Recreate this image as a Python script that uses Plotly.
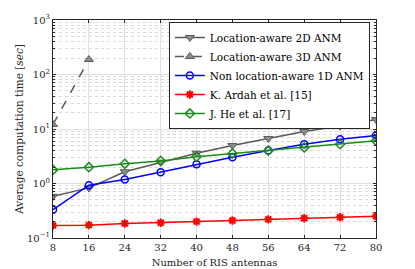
import plotly.graph_objects as go

antennas = [8, 16, 24, 32, 40, 48, 56, 64, 72, 80]
loc2d = [0.58, 0.83, 1.64, 2.46, 3.6, 4.97, 6.7, 9.0, 11.3, 14.9]
loc3d_x = [8, 16]
loc3d = [12.1, 188]
nonloc1d = [0.33, 0.93, 1.18, 1.61, 2.26, 3.04, 4.03, 5.26, 6.5, 7.6]
ardah = [0.17, 0.172, 0.185, 0.19, 0.20, 0.21, 0.22, 0.23, 0.24, 0.25]
he = [1.78, 1.99, 2.3, 2.6, 3.1, 3.55, 4.0, 4.6, 5.26, 6.06]
y_tickvals = [0.1, 1, 10, 100, 1000]
y_ticktext = ["10<sup>−1</sup>", "10<sup>0</sup>", "10<sup>1</sup>", "10<sup>2</sup>", "10<sup>3</sup>"]

FONT = "DejaVu Serif"
gray = "#595959"

fig = go.Figure()
fig.add_trace(go.Scatter(x=antennas, y=loc2d, mode="lines+markers", name="Location-aware 2D ANM",
                         line=dict(color=gray, width=1.5),
                         marker=dict(symbol="triangle-down", size=8, color="#8c8c8c",
                                     line=dict(color=gray, width=1))))
fig.add_trace(go.Scatter(x=loc3d_x, y=loc3d, mode="lines+markers", name="Location-aware 3D ANM",
                         line=dict(color=gray, width=1.5, dash="dash"),
                         marker=dict(symbol="triangle-up", size=8, color="#8c8c8c",
                                     line=dict(color=gray, width=1))))
fig.add_trace(go.Scatter(x=antennas, y=nonloc1d, mode="lines+markers", name="Non location-aware 1D ANM",
                         line=dict(color="#0000ff", width=1.5),
                         marker=dict(symbol="circle-open", size=7, color="#0000ff", line=dict(width=1.5))))
fig.add_trace(go.Scatter(x=antennas, y=ardah, mode="lines+markers", name="K. Ardah et al. [15]",
                         line=dict(color="#ff0000", width=1.5),
                         marker=dict(symbol="asterisk-open", size=7, color="#ff0000", line=dict(width=2, color="#ff0000"))))
fig.add_trace(go.Scatter(x=antennas, y=he, mode="lines+markers", name="J. He et al. [17]",
                         line=dict(color="#1a8c1a", width=1.5),
                         marker=dict(symbol="diamond-open", size=7, color="#1a8c1a", line=dict(width=1.5))))

axis_common = dict(showline=True, linecolor="#262626", linewidth=1, mirror="ticks",
                   ticks="inside", ticklen=3, tickcolor="#262626", automargin=False,
                   gridcolor="#e0e0e0", gridwidth=1, zeroline=False,
                   tickfont=dict(family=FONT, size=10, color="#262626"))

fig.update_xaxes(range=[8, 80], tickvals=antennas, **axis_common,
                 title=dict(text="Number of RIS antennas", font=dict(family=FONT, size=10, color="#262626"),
                            standoff=6))
fig.update_yaxes(type="log", range=[-1, 3], **axis_common,
                 tickvals=y_tickvals, ticktext=y_ticktext,
                 minor=dict(dtick="D1", showgrid=True, griddash="dot", gridcolor="#d9d9d9",
                            ticks="inside", ticklen=2, tickcolor="#262626"),
                 title=dict(text="Average computation time [<i>sec</i>]",
                            font=dict(family=FONT, size=10.5, color="#262626"), standoff=1))

fig.update_layout(width=407, height=261, margin=dict(l=45, r=39, t=12, b=31),
                  paper_bgcolor="white", plot_bgcolor="white",
                  font=dict(family=FONT, size=10.5, color="#262626"),
                  legend=dict(x=0.981, y=0.991, xanchor="right", yanchor="top",
                              bgcolor="white", bordercolor="#262626", borderwidth=1,
                              font=dict(family=FONT, size=10.5, color="#000000"),
                              itemwidth=30, tracegroupgap=0))
fig.write_html("out.html")
